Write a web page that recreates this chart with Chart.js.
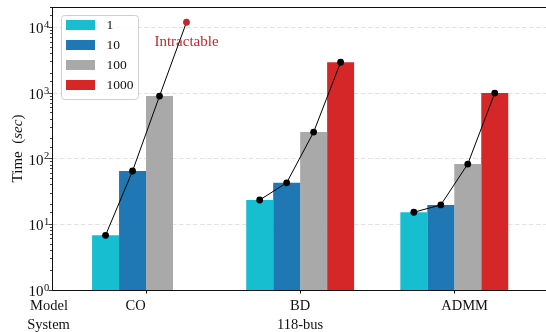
<!DOCTYPE html>
<html>
<head>
<meta charset="utf-8">
<script src="https://cdn.jsdelivr.net/npm/chart.js@4"></script>
<style>
  html, body { margin: 0; padding: 0; background: #fff; }
  canvas { display: block; }
</style>
</head>
<body>
<canvas id="grafico" width="546" height="332"></canvas>
<script>
// Dados do gráfico (tempos em segundos, sistema 118-bus)
const modelos = ['CO', 'BD', 'ADMM'];
const cenarios = ['1', '10', '100', '1000'];
const tempos1 = [6.8, 23.5, 15.3];
const tempos10 = [65, 43, 19.8];
const tempos100 = [900, 255, 83];
const tempos1000 = [null, 2950, 1000];
const intratavel = [12000, null, null]; // CO com 1000 cenários não resolve
const expoentesY = [0, 1, 2, 3, 4];
const sistema = '118-bus';

// Estilos
const cores = ['#17becf', '#1f77b4', '#a9a9a9', '#d62728'];
const corIntratavel = '#c1272d';
const fonte = 'Liberation Serif';
const larguraGrupo = 0.7; // fração do espaço de cada modelo ocupada pelas barras

const series = [tempos1, tempos10, tempos100, tempos1000];
const passo = larguraGrupo / cenarios.length;

// Barras agrupadas
const datasetsBarras = series.map((valores, s) => ({
    type: 'bar',
    label: cenarios[s],
    backgroundColor: cores[s],
    borderWidth: 0,
    order: 1,
    data: valores.map((v, i) => ({ x: i, y: v }))
}));

// Linhas ligando o topo das barras de cada modelo
const datasetsLinhas = modelos.map((m, i) => {
    const pontos = series.map((valores, s) => ({
        x: i + (s - (cenarios.length - 1) / 2) * passo,
        y: valores[i] != null ? valores[i] : intratavel[i]
    })).filter(p => p.y != null);
    const corPontos = series.map(valores => valores[i] != null ? '#000' : corIntratavel);
    return {
        type: 'line',
        label: m,
        data: pontos,
        borderColor: '#000',
        borderWidth: 1,
        pointRadius: 3.4,
        pointBorderWidth: 0,
        pointBackgroundColor: corPontos,
        tension: 0,
        order: 0
    };
});

const eDecada = v => Math.abs(Math.log10(v) - Math.round(Math.log10(v))) < 1e-9;

// Textos, legenda e bordas extras
const decoracao = {
    id: 'decoracao',
    afterDraw(chart) {
        const ctx = chart.ctx;
        const area = chart.chartArea;
        const xs = chart.scales.x;
        const ys = chart.scales.y;
        ctx.save();

        // borda superior
        ctx.strokeStyle = '#111';
        ctx.lineWidth = 1;
        ctx.beginPath();
        ctx.moveTo(area.left, area.top + 0.5);
        ctx.lineTo(area.right, area.top + 0.5);
        ctx.stroke();

        // rótulos do eixo y: 10^k
        ctx.fillStyle = '#111';
        expoentesY.forEach(k => {
            const y = ys.getPixelForValue(Math.pow(10, k));
            ctx.font = '15px "' + fonte + '"';
            ctx.textAlign = 'right';
            ctx.textBaseline = 'alphabetic';
            ctx.fillText('10', area.left - 8.5, y + 6);
            ctx.font = '10.5px "' + fonte + '"';
            ctx.textAlign = 'left';
            ctx.fillText(String(k), area.left - 8, y + 0.5);
        });

        // título do eixo y
        const partes = [['Time  (', ''], ['sec', 'italic '], [')', '']];
        ctx.save();
        ctx.translate(18, (area.top + area.bottom) / 2);
        ctx.rotate(-Math.PI / 2);
        ctx.textBaseline = 'middle';
        ctx.textAlign = 'left';
        let total = 0;
        partes.forEach(p => { ctx.font = p[1] + '15px "' + fonte + '"'; total += ctx.measureText(p[0]).width; });
        let px = -total / 2;
        partes.forEach(p => {
            ctx.font = p[1] + '15px "' + fonte + '"';
            ctx.fillText(p[0], px, 0);
            px += ctx.measureText(p[0]).width;
        });
        ctx.restore();

        // rótulos do eixo x em duas linhas
        ctx.font = '14.5px "' + fonte + '"';
        ctx.textAlign = 'center';
        ctx.textBaseline = 'middle';
        const linha1 = area.bottom + 16;
        const linha2 = area.bottom + 35;
        ctx.fillText('Model', area.left - 3, linha1);
        ctx.fillText('System', area.left - 3.5, linha2);
        const meio = (modelos.length - 1) / 2;
        modelos.forEach((m, i) => {
            ctx.fillText(m, xs.getPixelForValue(meio + (i - meio) * 1.067), linha1);
        });
        ctx.fillText(sistema, xs.getPixelForValue(meio), linha2);

        // texto "Intractable" abaixo do ponto vermelho
        chart.data.datasets.forEach((ds, d) => {
            if (ds.type !== 'line') return;
            const i = modelos.indexOf(ds.label);
            if (intratavel[i] == null) return;
            const pts = chart.getDatasetMeta(d).data;
            const p = pts[pts.length - 1];
            ctx.fillStyle = corIntratavel;
            ctx.font = '15px "' + fonte + '"';
            ctx.fillText('Intractable', p.x, p.y + 19.5);
        });

        // legenda
        const lx = area.left + 9, ly = area.top + 8;
        const lw = 77, lh = 84;
        ctx.beginPath();
        ctx.roundRect(lx + 0.5, ly + 0.5, lw, lh, 3);
        ctx.fillStyle = 'rgba(255,255,255,0.85)';
        ctx.fill();
        ctx.strokeStyle = '#d0d0d0';
        ctx.stroke();
        ctx.font = '13.5px "' + fonte + '"';
        ctx.textAlign = 'left';
        datasetsBarras.forEach((ds, s) => {
            const cy = ly + 10 + s * 20;
            ctx.fillStyle = ds.backgroundColor;
            ctx.fillRect(lx + 5, cy - 5, 29, 10);
            ctx.fillStyle = '#111';
            ctx.fillText(ds.label, lx + 45.5, cy + 0.5);
        });

        ctx.restore();
    }
};

const ctx = document.getElementById('grafico').getContext('2d');
new Chart(ctx, {
    type: 'bar',
    data: { datasets: [...datasetsBarras, ...datasetsLinhas] },
    options: {
        responsive: false,
        animation: false,
        devicePixelRatio: 1,
        categoryPercentage: larguraGrupo,
        barPercentage: 1,
        layout: { autoPadding: false, padding: { top: 7, left: 0, right: 0, bottom: 0 } },
        plugins: { legend: { display: false }, tooltip: { enabled: false } },
        scales: {
            x: {
                type: 'linear',
                min: -0.61,
                max: 2.595,
                offset: false,
                afterFit: s => { s.height = 42; },
                afterBuildTicks: s => { s.ticks = modelos.map((m, i) => ({ value: i })); },
                ticks: { display: false },
                grid: { offset: false, drawOnChartArea: false, tickLength: 3.5, tickColor: '#111' },
                border: { color: '#111', width: 1 }
            },
            y: {
                type: 'logarithmic',
                min: 1,
                max: 20500,
                afterFit: s => { s.width = 52; },
                ticks: { display: false, autoSkip: false },
                grid: {
                    color: c => (c.tick && c.tick.value > 1 && eDecada(c.tick.value)) ? '#e2e2e2' : 'rgba(0,0,0,0)',
                    lineWidth: 1,
                    tickLength: 3.5,
                    tickColor: '#111',
                    tickWidth: 0.8,
                    tickBorderDash: c => (c.tick && eDecada(c.tick.value)) ? [] : [0, 1.5, 2, 20]
                },
                border: { color: '#111', width: 1, dash: [4.5, 2.5] }
            }
        }
    },
    plugins: [decoracao]
});
</script>
</body>
</html>
